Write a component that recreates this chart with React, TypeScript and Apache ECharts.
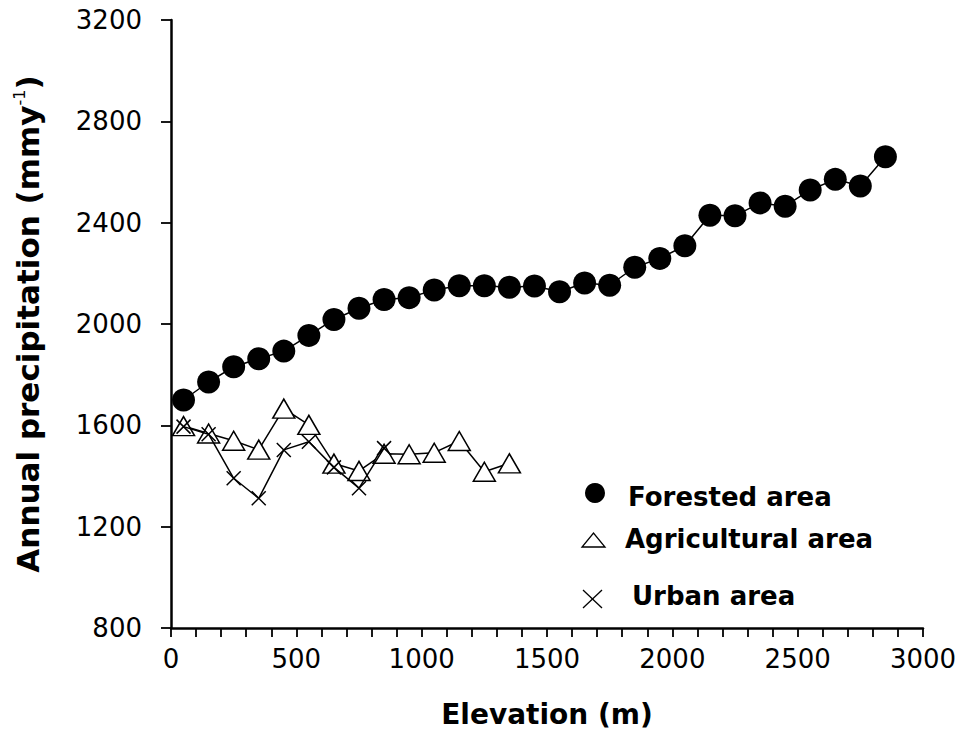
import React, { useEffect, useRef } from "react";
import * as echarts from "echarts";

// Elevation (m) of each sample point
const elevForest = [50, 150, 250, 350, 450, 550, 650, 750, 850, 950, 1050, 1150, 1250, 1350, 1450, 1550, 1650, 1750, 1850, 1950, 2050, 2150, 2250, 2350, 2450, 2550, 2650, 2750, 2850];
const forested = [1700, 1771, 1831, 1863, 1893, 1955, 2018, 2062, 2097, 2104, 2134, 2151, 2151, 2145, 2150, 2127, 2162, 2153, 2224, 2259, 2309, 2429, 2427, 2478, 2465, 2529, 2571, 2545, 2660];

const elevAgri = [50, 150, 250, 350, 450, 550, 650, 750, 850, 950, 1050, 1150, 1250, 1350];
const agricultural = [1597, 1568, 1539, 1504, 1666, 1602, 1449, 1420, 1488, 1486, 1492, 1538, 1417, 1450];

const elevUrban = [50, 150, 250, 350, 450, 550, 650, 750, 850];
const urban = [1595, 1565, 1391, 1312, 1503, 1535, 1434, 1352, 1510];

const seriesNames = ["Forested area", "Agricultural area", "Urban area"];
const xTitle = "Elevation (m)";
const yTitleMain = "Annual precipitation (mmy";
const yTitleSup = "-1";

const FONT = "'DejaVu Sans', 'Liberation Sans', sans-serif";

export default function App() {
  const ref = useRef<HTMLDivElement>(null);
  useEffect(() => {
    document.body.style.margin = "0";
    if (!ref.current) return;
    const chart = echarts.init(ref.current, undefined, { renderer: "svg" });
    const black = "#000";
    const axisLabel = { color: black, fontFamily: FONT, fontSize: 26, formatter: (v: number) => String(v) };
    chart.setOption({
      animation: false,
      backgroundColor: "#fff",
      grid: { left: 171, top: 20, right: 42, bottom: 119, outerBoundsMode: "none" },
      xAxis: {
        type: "value",
        min: 0,
        max: 3000,
        interval: 500,
        splitLine: { show: false },
        axisLine: { lineStyle: { color: black, width: 2.5 } },
        axisTick: { length: 9, lineStyle: { color: black, width: 1.8 } },
        minorTick: { show: true, splitNumber: 5, length: 9, lineStyle: { color: black, width: 1.8 } },
        axisLabel: { ...axisLabel, margin: 18 },
        name: xTitle,
        nameLocation: "middle",
        nameGap: 72,
        nameTextStyle: { color: black, fontFamily: FONT, fontSize: 28, fontWeight: "bold" },
      },
      yAxis: {
        type: "value",
        min: 800,
        max: 3200,
        interval: 400,
        splitLine: { show: false },
        axisLine: { onZero: false, lineStyle: { color: black, width: 2.5 } },
        axisTick: { length: 10, lineStyle: { color: black, width: 1.8 } },
        axisLabel: { ...axisLabel, margin: 29 },
        name: `{t|${yTitleMain}}{s|${yTitleSup}}{t|)}`,
        nameLocation: "middle",
        nameRotate: 90,
        nameGap: 126,
        nameTextStyle: {
          rich: {
            t: { color: black, fontFamily: FONT, fontSize: 31, fontWeight: "bold", lineHeight: 34 },
            s: { color: black, fontFamily: FONT, fontSize: 16, fontWeight: "normal", lineHeight: 34, verticalAlign: "top" },
          },
        },
      },
      series: [
        {
          name: seriesNames[0],
          type: "line",
          data: elevForest.map((x, i) => [x, forested[i]]),
          symbol: "circle",
          symbolSize: 23,
          itemStyle: { color: black },
          lineStyle: { color: black, width: 1.5 },
          z: 2,
        },
        {
          name: seriesNames[1],
          type: "line",
          data: elevAgri.map((x, i) => [x, agricultural[i]]),
          symbol: "triangle",
          symbolSize: [22, 19],
          itemStyle: { color: "#fff", borderColor: black, borderWidth: 1.5 },
          lineStyle: { color: black, width: 1.5 },
          z: 3,
        },
        {
          name: seriesNames[2],
          type: "line",
          data: elevUrban.map((x, i) => [x, urban[i]]),
          symbol: "path://M0,0L20,20M20,0L0,20",
          symbolSize: 14,
          itemStyle: { color: black, borderColor: black, borderWidth: 1.5 },
          lineStyle: { color: black, width: 1.5 },
          z: 4,
        },
      ],
      graphic: [
        { type: "circle", shape: { cx: 595, cy: 493, r: 10 }, style: { fill: black } },
        {
          type: "polygon",
          shape: { points: [[582, 547], [605, 547], [593.5, 533]] },
          style: { fill: "#fff", stroke: black, lineWidth: 1.3 },
        },
        { type: "line", shape: { x1: 583, y1: 590, x2: 602, y2: 608 }, style: { stroke: black, lineWidth: 1.3 } },
        { type: "line", shape: { x1: 602, y1: 590, x2: 583, y2: 608 }, style: { stroke: black, lineWidth: 1.3 } },
        {
          type: "text",
          x: 628,
          y: 497,
          style: { text: seriesNames[0], fill: black, fontFamily: FONT, fontSize: 26, fontWeight: "bold", verticalAlign: "middle" },
        },
        {
          type: "text",
          x: 625,
          y: 539,
          style: { text: seriesNames[1], fill: black, fontFamily: FONT, fontSize: 26, fontWeight: "bold", verticalAlign: "middle" },
        },
        {
          type: "text",
          x: 632,
          y: 596,
          style: { text: seriesNames[2], fill: black, fontFamily: FONT, fontSize: 26, fontWeight: "bold", verticalAlign: "middle" },
        },
      ],
    });
    return () => chart.dispose();
  }, []);
  return <div ref={ref} style={{ width: 965, height: 747 }} />;
}
